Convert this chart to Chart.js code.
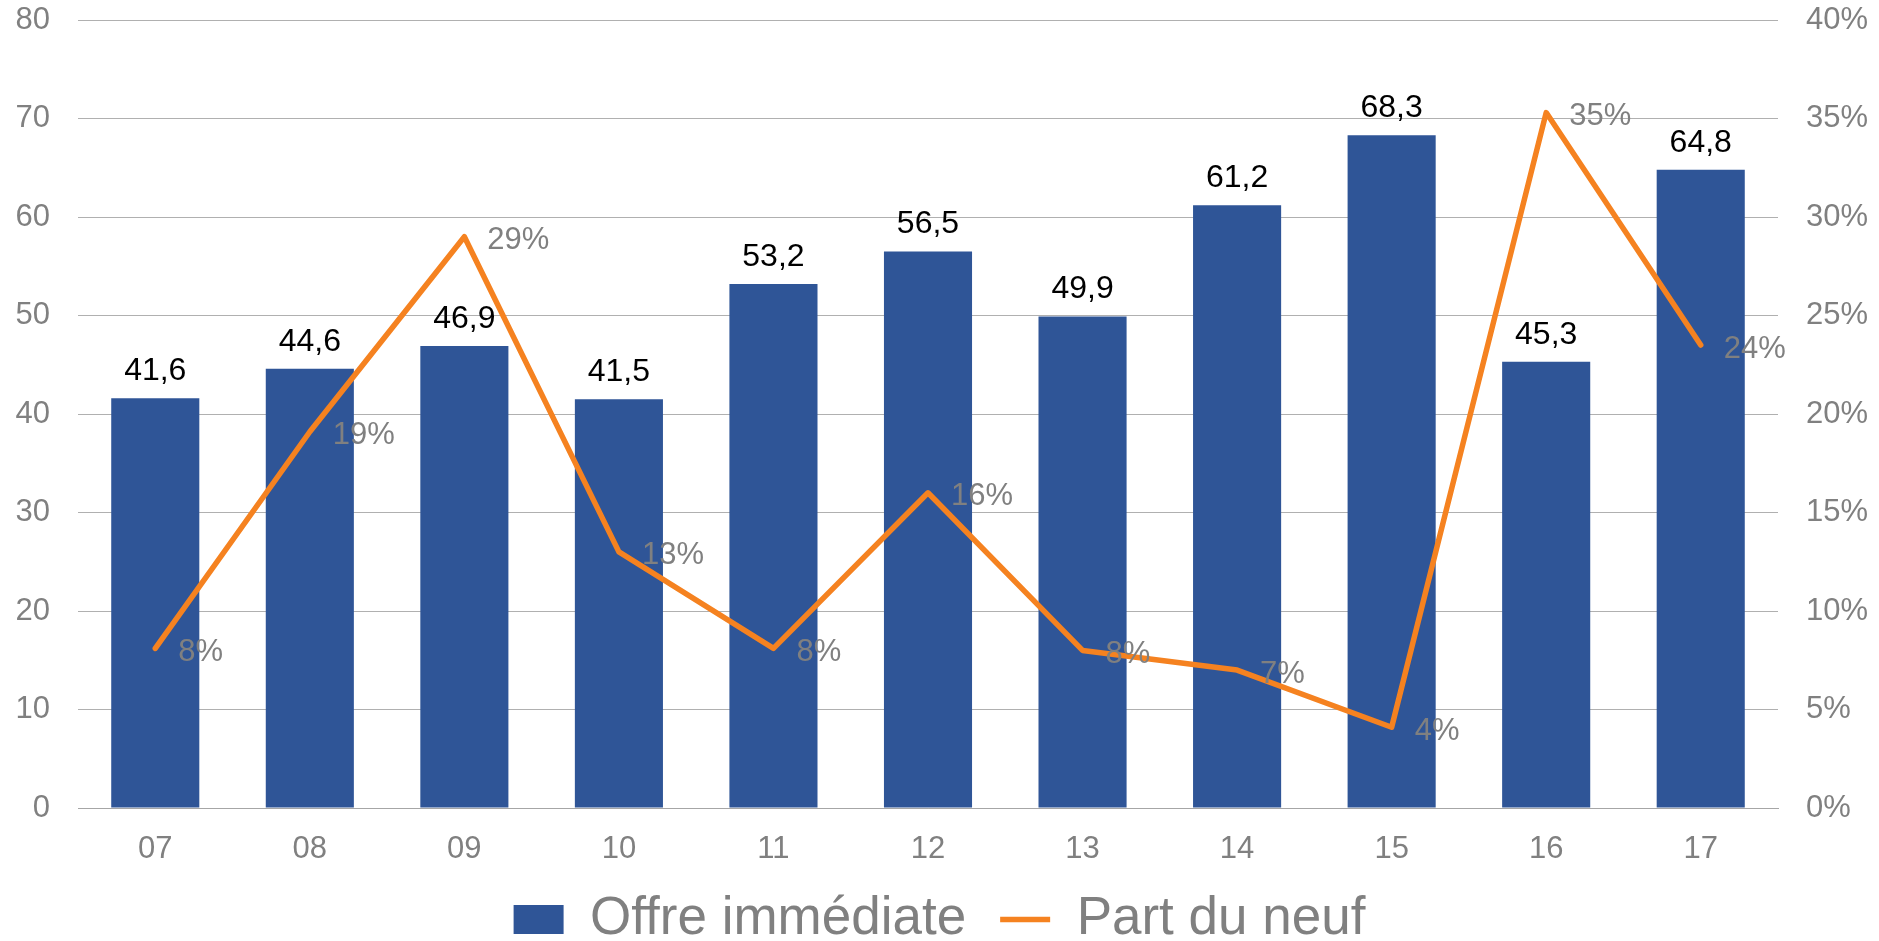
<!DOCTYPE html>
<html>
<head>
<meta charset="utf-8">
<script src="https://cdn.jsdelivr.net/npm/chart.js@4/dist/chart.umd.min.js"></script>
<style>
  html, body { margin: 0; padding: 0; background: #fff; }
  #wrap { width: 1879px; height: 941px; }
</style>
</head>
<body>
<div id="wrap"><canvas id="myChart" width="1879" height="941"></canvas></div>
<script>
// data
const years = ["07", "08", "09", "10", "11", "12", "13", "14", "15", "16", "17"];
const offre = [41.6, 44.6, 46.9, 41.5, 53.2, 56.5, 49.9, 61.2, 68.3, 45.3, 64.8];
const partNeuf = [8.1, 19.1, 29, 13, 8.1, 16, 8, 7, 4.1, 35.3, 23.5];

const gray = "#808080";
const font = "'Liberation Sans', Arial, sans-serif";

// draws the value labels next to bars / line points
const valueLabels = {
  id: "valueLabels",
  afterDatasetsDraw(chart) {
    const ctx = chart.ctx;
    ctx.save();
    ctx.textBaseline = "middle";

    ctx.font = "32px " + font;
    ctx.fillStyle = "#000";
    ctx.textAlign = "center";
    chart.getDatasetMeta(0).data.forEach((el, i) => {
      ctx.fillText(offre[i].toFixed(1).replace(".", ","), el.x, el.y - 27);
    });

    ctx.font = "31px " + font;
    ctx.fillStyle = gray;
    ctx.textAlign = "left";
    chart.getDatasetMeta(1).data.forEach((el, i) => {
      ctx.fillText(Math.round(partNeuf[i]) + "%", el.x + 23, el.y + 4);
    });
    ctx.restore();
  },
};

// fixed axis sizes so the plot area sits where it does in the original
function fixY(width) {
  return (scale) => {
    scale.width = width;
    scale.paddingTop = 20;
    scale.paddingBottom = 19;
  };
}

new Chart(document.getElementById("myChart"), {
  type: "bar",
  data: {
    labels: years,
    datasets: [
      {
        label: "Offre immédiate",
        data: offre,
        backgroundColor: "#2f5597",
        categoryPercentage: 1,
        barPercentage: 0.57,
        yAxisID: "y",
        order: 1,
      },
      {
        type: "line",
        label: "Part du neuf",
        data: partNeuf,
        borderColor: "#f58220",
        backgroundColor: "#f58220",
        borderWidth: 5.5,
        pointRadius: 0,
        borderJoinStyle: "round",
        borderCapStyle: "round",
        tension: 0,
        yAxisID: "y1",
        order: 0,
      },
    ],
  },
  options: {
    responsive: false,
    animation: false,
    layout: { padding: { left: 0, right: 0, top: 0, bottom: -15 } },
    plugins: {
      tooltip: { enabled: false },
      legend: {
        position: "bottom",
        labels: {
          color: gray,
          font: { size: 53, family: font },
          usePointStyle: true,
          pointStyleWidth: 50,
          boxHeight: 29,
          padding: 34,
          generateLabels() {
            return [
              {
                text: "Offre immédiate",
                fillStyle: "#2f5597",
                strokeStyle: "#2f5597",
                lineWidth: 0,
                pointStyle: "rect",
                fontColor: gray,
                datasetIndex: 0,
              },
              {
                text: "Part du neuf",
                fillStyle: "#f58220",
                strokeStyle: "#f58220",
                lineWidth: 5.5,
                pointStyle: "line",
                fontColor: gray,
                datasetIndex: 1,
              },
            ];
          },
        },
      },
    },
    scales: {
      x: {
        grid: { display: false },
        border: { display: true, color: "#a6a6a6", width: 1 },
        ticks: { color: gray, font: { size: 31, family: font, lineHeight: 1 }, padding: 18 },
        afterFit: (scale) => { scale.height = 51; },
      },
      y: {
        position: "left",
        min: 0,
        max: 80,
        ticks: { stepSize: 10, color: gray, font: { size: 31, family: font }, padding: 28 },
        grid: { color: "#b0b0b0", lineWidth: 1, drawTicks: false },
        border: { display: false },
        afterFit: fixY(78),
      },
      y1: {
        position: "right",
        min: 0,
        max: 40,
        ticks: {
          stepSize: 5,
          color: gray,
          font: { size: 31, family: font },
          padding: 28,
          callback: (v) => v + "%",
        },
        grid: { display: false, drawTicks: false },
        border: { display: false },
        afterFit: fixY(101),
      },
    },
  },
  plugins: [valueLabels],
});
</script>
</body>
</html>
